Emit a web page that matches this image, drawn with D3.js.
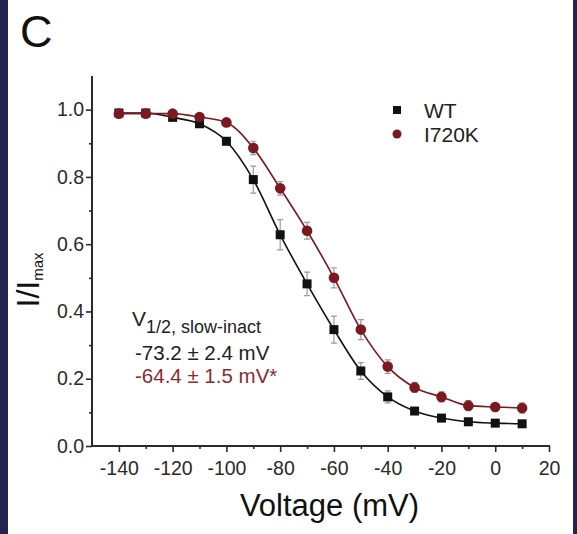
<!DOCTYPE html>
<html>
<head>
<meta charset="utf-8">
<script src="https://cdn.jsdelivr.net/npm/d3@7"></script>
<style>
  body { margin: 0; background: #23244f; }
  svg { display: block; }
  text { font-family: "Liberation Sans", Arial, sans-serif; }
</style>
</head>
<body>
<div id="chart"></div>
<script>
const W = 577, H = 534;
const PLOT = { LEFT: 92, RIGHT: 549, TOP: 76, BOTTOM: 446 };

// data
const voltages = [-140, -130, -120, -110, -100, -90, -80, -70, -60, -50, -40, -30, -20, -10, 0, 10];
const wtValues = [0.99, 0.99, 0.977, 0.958, 0.906, 0.792, 0.628, 0.482, 0.346, 0.223, 0.146, 0.104, 0.083, 0.072, 0.068, 0.066];
const wtErrors = [0.004, 0.004, 0.006, 0.008, 0.01, 0.04, 0.045, 0.035, 0.04, 0.025, 0.018, 0.01, 0.01, 0.01, 0.008, 0.008];
const mutValues = [0.988, 0.988, 0.988, 0.978, 0.962, 0.886, 0.766, 0.64, 0.5, 0.346, 0.236, 0.174, 0.146, 0.12, 0.116, 0.113];
const mutErrors = [0.004, 0.004, 0.005, 0.008, 0.01, 0.02, 0.02, 0.025, 0.03, 0.03, 0.02, 0.015, 0.015, 0.015, 0.01, 0.015];

const xMajor = [-140, -120, -100, -80, -60, -40, -20, 0, 20];
const xMinor = [-130, -110, -90, -70, -50, -30, -10, 10];
const yMajor = [0, 0.2, 0.4, 0.6, 0.8, 1.0];
const yMinor = [0.1, 0.3, 0.5, 0.7, 0.9];

const seriesNames = ["WT", "I720K"];
const COLORS = { WT: "#111111", I720K: "#7a1a20" };

const svg = d3.select("#chart").append("svg")
    .attr("width", W)
    .attr("height", H);

// white panel with navy edges
svg.append("rect").attr("x", 8).attr("y", 0).attr("width", 565).attr("height", H).attr("fill", "#ffffff");

const x = d3.scaleLinear().domain([-150, 20]).range([PLOT.LEFT, PLOT.RIGHT]);
const y = d3.scaleLinear().domain([0, 1.1]).range([PLOT.BOTTOM, PLOT.TOP]);

// axes
const axisColor = "#2a2a2a";
const gx = svg.append("g").attr("transform", `translate(0, ${PLOT.BOTTOM})`);
gx.call(d3.axisBottom(x).tickValues(xMajor).tickSize(6).tickPadding(4).tickFormat(d => String(d)));
gx.append("g").call(d3.axisBottom(x).tickValues(xMinor).tickSize(3).tickFormat(""));
const gy = svg.append("g").attr("transform", `translate(${PLOT.LEFT}, 0)`);
gy.call(d3.axisLeft(y).tickValues(yMajor).tickSize(6).tickPadding(2).tickFormat(d => d.toFixed(1)));
gy.append("g").call(d3.axisLeft(y).tickValues(yMinor).tickSize(3).tickFormat(""));

svg.selectAll(".domain").remove();
svg.selectAll(".tick line").attr("stroke", axisColor).attr("stroke-width", 1.6);
svg.selectAll(".tick text")
    .attr("fill", "#2a2a2a")
    .style("font-size", "19.5px")
    .style("font-family", "'Liberation Sans', Arial, sans-serif");
gx.selectAll(".tick text").attr("dy", "0.95em");

svg.append("line")
    .attr("x1", PLOT.LEFT).attr("x2", PLOT.LEFT)
    .attr("y1", y(1.1)).attr("y2", PLOT.BOTTOM + 1)
    .attr("stroke", axisColor).attr("stroke-width", 2);
svg.append("line")
    .attr("x1", PLOT.LEFT - 1).attr("x2", x(20) + 1)
    .attr("y1", PLOT.BOTTOM).attr("y2", PLOT.BOTTOM)
    .attr("stroke", axisColor).attr("stroke-width", 2);

// series
const series = [
    { name: "WT", values: wtValues, errors: wtErrors },
    { name: "I720K", values: mutValues, errors: mutErrors }
];

const line = d3.line()
    .x((d, i) => x(voltages[i]))
    .y(d => y(d))
    .curve(d3.curveMonotoneX);

series.forEach(s => {
    const g = svg.append("g").attr("class", "series");
    const pts = s.values.map((v, i) => ({ v: voltages[i], val: v, err: s.errors[i] }));

    // error bars
    g.selectAll(".err")
        .data(pts)
        .enter()
        .append("path")
        .attr("d", d => {
            const cx = x(d.v), y0 = y(d.val - d.err), y1 = y(d.val + d.err);
            return `M${cx},${y0}V${y1}M${cx - 3},${y0}H${cx + 3}M${cx - 3},${y1}H${cx + 3}`;
        })
        .attr("fill", "none")
        .attr("stroke", "#9a9a9a")
        .attr("stroke-width", 1.2);

    g.append("path")
        .datum(s.values)
        .attr("d", line)
        .attr("fill", "none")
        .attr("stroke", COLORS[s.name])
        .attr("stroke-width", 1.6);

    if (s.name === "WT") {
        g.selectAll(".pt")
            .data(pts)
            .enter()
            .append("rect")
            .attr("x", d => x(d.v) - 4.5)
            .attr("y", d => y(d.val) - 4.5)
            .attr("width", 9)
            .attr("height", 9)
            .attr("fill", COLORS.WT);
    } else {
        g.selectAll(".pt")
            .data(pts)
            .enter()
            .append("circle")
            .attr("cx", d => x(d.v))
            .attr("cy", d => y(d.val))
            .attr("r", 5.3)
            .attr("fill", COLORS.I720K);
    }
});

// legend
const legend = svg.append("g");
legend.append("rect").attr("x", 393).attr("y", 106).attr("width", 8).attr("height", 8).attr("fill", COLORS.WT);
legend.append("circle").attr("cx", 397).attr("cy", 134).attr("r", 4.5).attr("fill", COLORS.I720K);
seriesNames.forEach((n, i) => {
    legend.append("text")
        .attr("x", 424)
        .attr("y", 110 + i * 24)
        .attr("dy", "0.36em")
        .attr("fill", "#222")
        .style("font-size", "21px")
        .text(n);
});

// annotation
const note = svg.append("text").attr("x", 132).attr("y", 326).attr("fill", "#222");
note.append("tspan").style("font-size", "21px").text("V");
note.append("tspan").attr("dy", 7).style("font-size", "18px").text("1/2, slow-inact");
svg.append("text").attr("x", 135).attr("y", 360).attr("fill", "#222")
    .style("font-size", "20.5px").text("-73.2 \u00b1 2.4 mV");
svg.append("text").attr("x", 135).attr("y", 383).attr("fill", "#8a2c32")
    .style("font-size", "20.5px").text("-64.4 \u00b1 1.5 mV*");

// axis titles
svg.append("text")
    .attr("x", (PLOT.LEFT + PLOT.RIGHT) / 2 + 9)
    .attr("y", 516)
    .attr("text-anchor", "middle")
    .attr("fill", "#111")
    .style("font-size", "31px")
    .text("Voltage (mV)");

const yt = svg.append("text")
    .attr("transform", "translate(39, 280) rotate(-90)")
    .attr("text-anchor", "middle")
    .attr("fill", "#111");
yt.append("tspan").style("font-size", "32px").text("I/I");
yt.append("tspan").attr("dy", 4).style("font-size", "15px").text("max");

// panel letter
svg.append("text").attr("x", 20).attr("y", 47).attr("fill", "#111").style("font-size", "45px").text("C");
</script>
</body>
</html>
